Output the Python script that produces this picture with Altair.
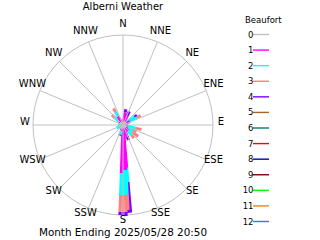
import altair as alt
import pandas as pd

# ---- data ----
directions = ["N", "NNE", "NE", "ENE", "E", "ESE", "SE", "SSE",
              "S", "SSW", "SW", "WSW", "W", "WNW", "NW", "NNW"]
levels = ["0", "1", "2", "3", "4", "5", "6", "7", "8", "9", "10", "11", "12"]
level_colors = ["#c0c0c0", "#ff00ff", "#00ffff", "#ff8080", "#8000ff", "#b06020",
                "#008060", "#ff0000", "#0000c0", "#800000", "#00ff00", "#ff8000", "#2080ff"]

# wind bars: direction (deg) and stacked amounts for Beaufort 1..4
bar_dir = [175.0, 176.5, 178.0, 180.0, 182.0, 10, 25, 55, 62, 312, 330, 275, 245, 115, 104, 130, 127, 160, 197, 140]
bf1 = [43, 45, 45, 45, 48, 13, 10, 3, 8, 5, 10, 0, 0, 0, 5, 7, 6, 12, 6, 8]
bf2 = [14, 24, 25, 25, 22, 0, 0, 11, 8, 6, 5, 5, 7, 10, 8, 0, 6, 0, 4, 5]
bf3 = [0, 16, 17, 17, 17, 0, 0, 0, 4, 4, 4, 0, 0, 5, 6, 0, 7, 0, 0, 4]
bf4 = [31, 3, 4, 4, 3, 3, 5, 3, 0, 0, 0, 0, 0, 0, 0, 2, 0, 4, 1, 0]

title_text = ["Alberni Weather"]
footer_text = ["Month Ending 2025/05/28 20:50"]
legend_title = ["Beaufort"]

# ---- styles ----
FONT = "DejaVu Sans"
GRID = "#c0c0c0"
R = 90            # outer ring radius (scale units == px)
LABEL_R = 98
CX0, CX1 = 33, 213
CY0, CY1 = 215, 35

rows = []
for i, d in enumerate(bar_dir):
    for lvl, arr in enumerate([bf1, bf2, bf3, bf4], start=1):
        rows.append({"bar": i, "dir": d, "lvl": lvl, "b": str(lvl), "value": arr[i]})
bars_df = pd.DataFrame(rows)
dirs_df = pd.DataFrame({"label": directions, "idx": list(range(len(directions)))})

xs = alt.Scale(domain=[-R, R], range=[CX0, CX1], nice=False, zero=False)
ys = alt.Scale(domain=[-R, R], range=[CY0, CY1], nice=False, zero=False)
cs = alt.Scale(domain=levels, range=level_colors)

ring = alt.Chart(pd.DataFrame({"r": [R]})).mark_arc(
    fillOpacity=0, stroke=GRID, strokeWidth=1
).encode(
    x=alt.X(datum=0, scale=xs, axis=None), y=alt.Y(datum=0, scale=ys, axis=None),
    theta=alt.value(0), theta2=alt.value(6.2832), radius=alt.value(R)
)

bars = alt.Chart(bars_df).transform_window(
    cum="sum(value)", groupby=["bar"], sort=[alt.SortField("lvl")], frame=[None, 0]
).transform_filter("datum.value > 0").transform_calculate(
    inner="datum.cum - datum.value",
    s="sin(datum.dir * PI / 180)", c="cos(datum.dir * PI / 180)"
).transform_calculate(
    xa="datum.inner * datum.s", xb="datum.cum * datum.s",
    ya="datum.inner * datum.c", yb="datum.cum * datum.c"
).mark_rule(strokeWidth=3, strokeCap="butt").encode(
    x=alt.X("xa:Q", scale=xs, axis=None), x2="xb:Q",
    y=alt.Y("ya:Q", scale=ys, axis=None), y2="yb:Q",
    color=alt.Color("b:N", scale=cs, legend=None),
    order="bar:Q"
)

spokes = alt.Chart(dirs_df).transform_calculate(
    a="datum.idx * 22.5 * PI / 180", z="0"
).transform_calculate(
    xe=f"{R} * sin(datum.a)", ye=f"{R} * cos(datum.a)"
).mark_rule(stroke=GRID, strokeWidth=1).encode(
    x=alt.X("z:Q", scale=xs, axis=None), x2="xe:Q",
    y=alt.Y("z:Q", scale=ys, axis=None), y2="ye:Q"
)

calm = alt.Chart(pd.DataFrame({"r": [1]})).mark_arc(fill=GRID).encode(
    x=alt.X(datum=0, scale=xs, axis=None), y=alt.Y(datum=0, scale=ys, axis=None),
    theta=alt.value(0), theta2=alt.value(6.2832), radius=alt.value(3.5)
)

labels = alt.Chart(dirs_df).transform_calculate(
    a="datum.idx * 22.5 * PI / 180"
).transform_calculate(
    lx=f"{LABEL_R} * sin(datum.a)", ly=f"{LABEL_R} * cos(datum.a)"
).mark_text(font=FONT, fontSize=10, align="center", baseline="alphabetic", color="black").encode(
    x=alt.X("lx:Q", scale=xs, axis=None), y=alt.Y("ly:Q", scale=ys, axis=None), text="label:N"
)

title = alt.Chart(pd.DataFrame({"t": title_text})).mark_text(
    font=FONT, fontSize=10, align="center", baseline="alphabetic", color="black"
).encode(x=alt.value(123), y=alt.value(9.5), text="t:N")

footer = alt.Chart(pd.DataFrame({"t": footer_text})).mark_text(
    font=FONT, fontSize=10.4, align="center", baseline="alphabetic", color="black"
).encode(x=alt.value(123), y=alt.value(235.5), text="t:N")

polar = alt.layer(ring, bars, spokes, calm, labels, title, footer).properties(width=240, height=240)

leg_df = pd.DataFrame({"b": levels})
ly = alt.Scale(type="point", domain=levels, range=[34.5, 221.5], padding=0)
leg_lines = alt.Chart(leg_df).mark_rule(strokeWidth=1.4).encode(
    x=alt.value(13), x2=alt.value(29),
    y=alt.Y("b:N", scale=ly, axis=None),
    color=alt.Color("b:N", scale=cs, legend=None)
)
leg_text = alt.Chart(leg_df).mark_text(
    font=FONT, fontSize=8.5, align="right", baseline="middle", color="black"
).encode(x=alt.value(13.5), y=alt.Y("b:N", scale=ly, axis=None), text="b:N")
leg_title = alt.Chart(pd.DataFrame({"t": legend_title})).mark_text(
    font=FONT, fontSize=8.5, align="left", baseline="middle", color="black"
).encode(x=alt.value(5), y=alt.value(20), text="t:N")
legend = alt.layer(leg_lines, leg_text, leg_title).properties(width=80, height=240)

chart = alt.hconcat(polar, legend, spacing=0).properties(
    padding=0, background="white"
).configure_view(stroke=None)

chart.save("out.html", embed_options={"renderer": "svg", "actions": False})
